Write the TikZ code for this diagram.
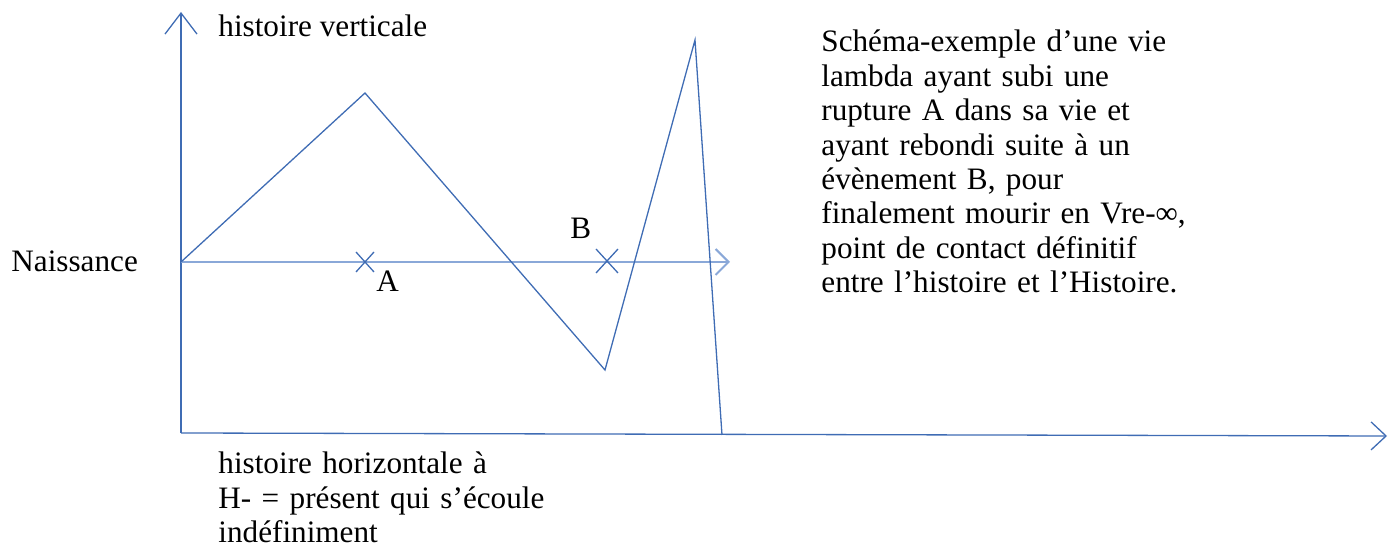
\documentclass[tikz,border=0pt]{standalone}
\usepackage{fontspec}
\setmainfont{Liberation Serif}
\usetikzlibrary{arrows.meta}

\definecolor{lineblue}{HTML}{3F6CB4}
\definecolor{paleblue}{HTML}{8AA8D8}

\begin{document}
\begin{tikzpicture}[x=0.5pt, y=-0.5pt,
  font=\fontsize{15.6}{17.2}\selectfont,
  axe/.style={draw=lineblue, line width=0.65pt},
  vie/.style={draw=lineblue, line width=0.65pt},
  txt/.style={inner sep=0pt, anchor=base west}]
  \useasboundingbox (0,0) rectangle (1394,549);

  % axes
  \coordinate (O) at (181,433);
  \coordinate (Ytop) at (181,12);
  \coordinate (Xend) at (1387,436);
  \draw[axe, -{Straight Barb[length=10.5pt, width=16pt]}] (O) -- (Ytop);
  \draw[axe, -{Straight Barb[length=7.5pt, width=14pt]}] (O) -- (Xend);
  \node[txt] (vert) at (218,37) {histoire verticale};
  \node[txt, text width=200pt, align=left] (horiz) at (218,474)
    {histoire horizontale à\\
     H- = présent qui s’écoule\\
     indéfiniment};

  % ligne de vie
  \coordinate (N) at (181,262);
  \coordinate (Tend) at (730,262);
  \draw[draw=paleblue, line width=1pt, -{Straight Barb[length=6.5pt, width=13pt]}] (N) -- (Tend);
  \node[txt] (naiss) at (11,272) {Naissance};

  % evenements A et B
  \coordinate (A) at (365,262);
  \coordinate (B) at (607,261);
  \draw[vie] (A) +(-9,-10) -- +(9,10) (A) +(-9,10) -- +(9,-10);
  \draw[vie] (B) +(-11,-12) -- +(11,12) (B) +(-11,12) -- +(11,-12);
  \node[txt] (labA) at (376,292) {A};
  \node[txt] (labB) at (570,239) {B};

  % parcours
  \coordinate (P1) at (365,93);
  \coordinate (P2) at (605,370);
  \coordinate (P3) at (695,40);
  \coordinate (mort) at (722,435);
  \draw[vie] (N) -- (P1) -- (P2) -- (P3) -- (mort);

  % legende
  \node[txt, text width=260pt, align=left] (legende) at (821,52)
    {Schéma-exemple d’une vie\\
     lambda ayant subi une\\
     rupture A dans sa vie et\\
     ayant rebondi suite à un\\
     évènement B, pour\\
     finalement mourir en Vre-∞,\\
     point de contact définitif\\
     entre l’histoire et l’Histoire.};
\end{tikzpicture}
\end{document}
